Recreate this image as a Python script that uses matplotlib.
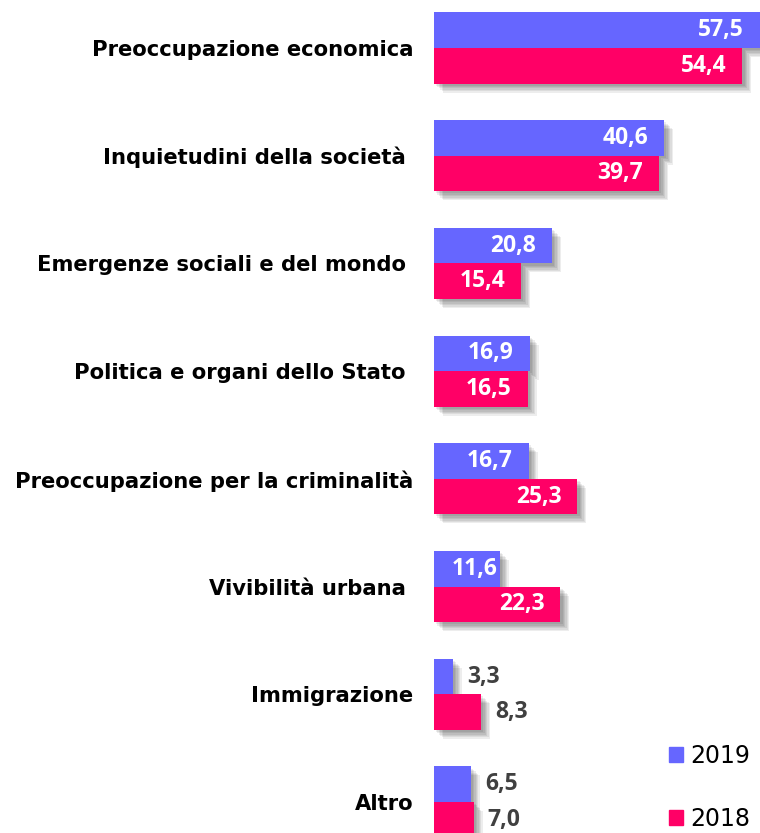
"""Grouped horizontal bars: main worries, 2019 vs 2018."""

import matplotlib
matplotlib.use('Agg')
import matplotlib.patheffects as pe
import matplotlib.pyplot as plt
import numpy as np
from matplotlib.patches import Patch

CATEGORIES = [
    'Preoccupazione economica',
    'Inquietudini della società ',
    'Emergenze sociali e del mondo ',
    'Politica e organi dello Stato ',
    'Preoccupazione per la criminalità',
    'Vivibilità urbana ',
    'Immigrazione',
    'Altro',
]
VALUES_2019 = [57.5, 40.6, 20.8, 16.9, 16.7, 11.6, 3.3, 6.5]
VALUES_2018 = [54.4, 39.7, 15.4, 16.5, 25.3, 22.3, 8.3, 7.0]

COLOR_2019 = '#6666FF'
COLOR_2018 = '#FF0066'
OUTSIDE_COLOR = '#404040'
BAR_HEIGHT = 0.33

# soft drop shadow built from a few stacked offsets
SHADOW = [
    pe.SimplePatchShadow(offset=(d, -d), shadow_rgbFace='black', alpha=0.07)
    for d in (1.5, 2.5, 3.5, 4.5, 5.5, 6.5)
] + [pe.Normal()]


def fmt(v):
    return f'{v:.1f}'.replace('.', ',')


def label_bars(ax, bars, values):
    texts = []
    for bar, v in zip(bars, values):
        y = bar.get_y() + bar.get_height() / 2
        if v >= 10:
            t = ax.annotate(fmt(v), (v, y), xytext=(-16, 0), textcoords='offset pixels',
                            ha='right', va='center', color='white', fontsize=16.5,
                            fontweight='bold', family='Open Sans')
            texts.append((t, bar))
        else:
            ax.annotate(fmt(v), (v, y), xytext=(14, 0), textcoords='offset pixels',
                        ha='left', va='center', color=OUTSIDE_COLOR, fontsize=16.5,
                        fontweight='bold', family='Open Sans')
    return texts


def main():
    fig = plt.figure(figsize=(7.6, 8.33), dpi=100)
    ax = fig.add_axes([434 / 760, 0, 1 - 434 / 760, 1])

    y = np.arange(len(CATEGORIES))
    bars19 = ax.barh(y - BAR_HEIGHT / 2, VALUES_2019, height=BAR_HEIGHT,
                     color=COLOR_2019, zorder=2)
    bars18 = ax.barh(y + BAR_HEIGHT / 2, VALUES_2018, height=BAR_HEIGHT,
                     color=COLOR_2018, zorder=3)
    for bar in list(bars19) + list(bars18):
        bar.set_path_effects(SHADOW)

    inside = label_bars(ax, bars19, VALUES_2019) + label_bars(ax, bars18, VALUES_2018)

    ax.set_xlim(0, 57.5)
    ax.set_ylim(7 + 31 / 107.7, -48 / 107.7)
    ax.set_yticks(y, CATEGORIES, fontsize=15.2, fontweight='bold', family='DejaVu Sans')
    ax.tick_params(axis='y', length=0, pad=15)
    ax.set_xticks([])
    for spine in ax.spines.values():
        spine.set_visible(False)

    handles = [Patch(color=COLOR_2019, label='2019'),
               Patch(color=COLOR_2018, label='2018')]
    ax.legend(handles=handles, loc='lower right',
              bbox_to_anchor=(750 / 760, 2 / 833), bbox_transform=fig.transFigure,
              frameon=False, fontsize=17, labelspacing=1.65,
              handlelength=0.6, handleheight=0.6, handletextpad=0.3,
              borderpad=0.0, borderaxespad=0.0)

    # short bars: keep the label inside but clear of the bar start
    fig.canvas.draw()
    renderer = fig.canvas.get_renderer()
    for t, bar in inside:
        tw = t.get_window_extent(renderer).width
        bw = ax.transData.transform((bar.get_width(), 0))[0] - ax.transData.transform((0, 0))[0]
        if bw - 16 - tw < 18:
            t.set_position((-(bw - 18 - tw), 0))

    fig.savefig('out.png', dpi=100)


if __name__ == '__main__':
    main()
